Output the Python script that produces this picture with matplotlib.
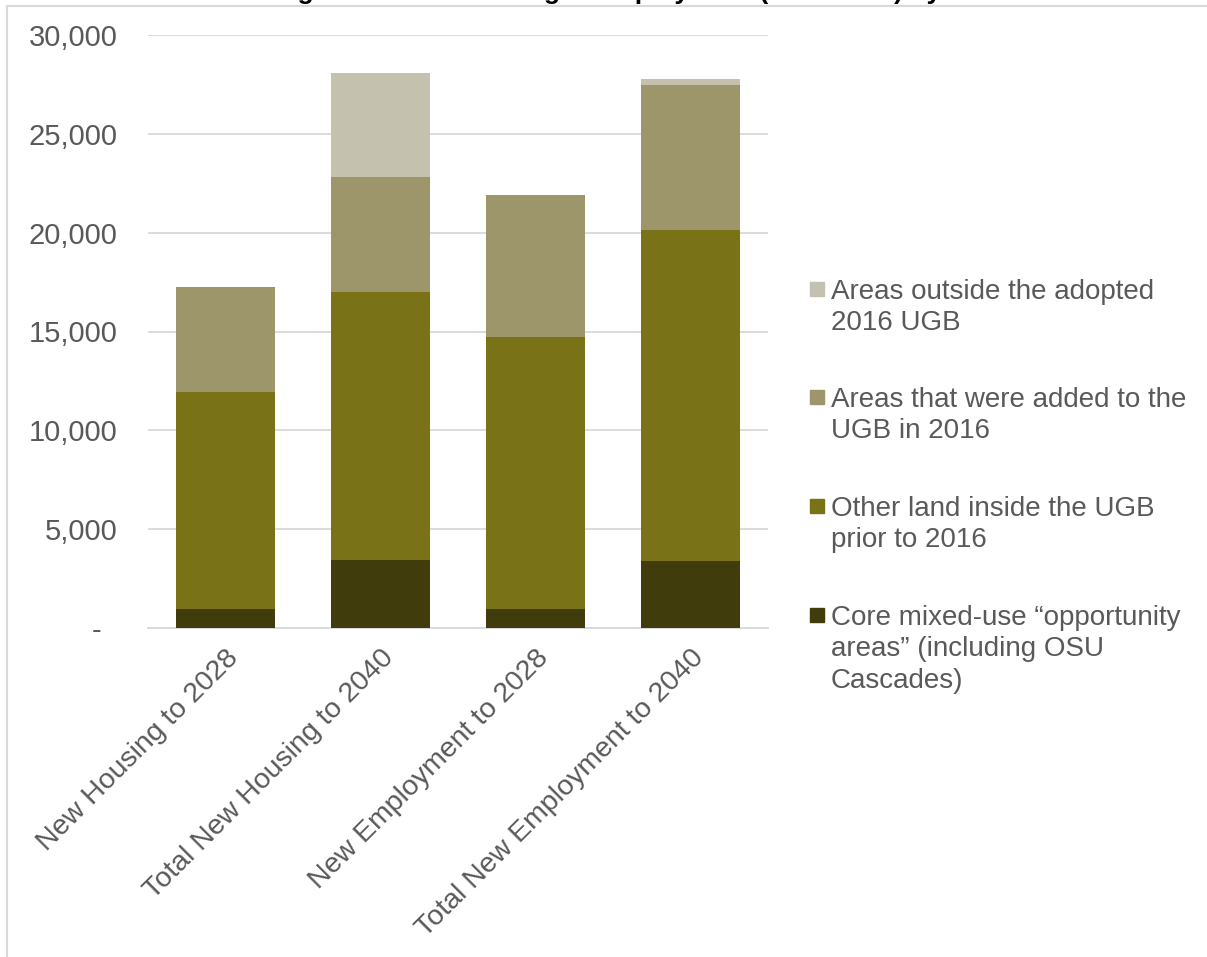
import numpy as np
import matplotlib
matplotlib.use("Agg")
import matplotlib.pyplot as plt
import matplotlib.transforms as mtransforms
from matplotlib.patches import Rectangle

plt.rcParams['font.family'] = ['Liberation Sans', 'DejaVu Sans']

# Data (stacked segments, bottom to top)
categories = ['New Housing to 2028', 'Total New Housing to 2040',
              'New Employment to 2028', 'Total New Employment to 2040']
core_opportunity = [950, 3450, 950, 3400]
other_inside = [11000, 13550, 13770, 16730]
added_2016 = [5300, 5820, 7180, 7330]
outside_ugb = [0, 5250, 0, 300]

series_labels = ['Core mixed-use \u201copportunity\nareas\u201d (including OSU\nCascades)',
                 'Other land inside the UGB\nprior to 2016',
                 'Areas that were added to the\nUGB in 2016',
                 'Areas outside the adopted\n2016 UGB']
colors = ['#413C0B', '#7A7217', '#9E966B', '#C4C1AE']
title = 'Figure 3: New Housing & Employment (2016-2040) by Area'

text_color = '#595959'
grid_color = '#D9D9D9'

fig = plt.figure(figsize=(12.07, 9.57), dpi=100)
ax = fig.add_axes([148 / 1207, 1 - 628 / 957, 620 / 1207, 593 / 957])

x = np.arange(len(categories))
bottom = np.zeros(len(categories))
for vals, c in zip([core_opportunity, other_inside, added_2016, outside_ugb], colors):
    ax.bar(x, vals, width=0.645, bottom=bottom, color=c, zorder=3)
    bottom += np.array(vals)

ax.set_xlim(-0.5, len(categories) - 0.5)
ax.set_ylim(0, 30000)
yt = np.arange(0, 30001, 5000)
ax.set_yticks(yt)
ax.set_yticklabels(['-  ' if v == 0 else f'{v:,}' for v in yt],
                   fontsize=21, color=text_color)
ax.set_xticks(x)
ax.set_xticklabels(categories, fontsize=20.5, color=text_color,
                   rotation=45, ha='right', rotation_mode='anchor')
shift = mtransforms.ScaledTranslation(-6 / 100, 0, fig.dpi_scale_trans)
for lbl in ax.get_xticklabels():
    lbl.set_transform(lbl.get_transform() + shift)
ax.tick_params(axis='both', length=0)
ax.tick_params(axis='y', pad=22)
ax.tick_params(axis='x', pad=12)
ax.grid(axis='y', color=grid_color, linewidth=1.3, zorder=0)
for s in ['top', 'right', 'left']:
    ax.spines[s].set_visible(False)
ax.spines['bottom'].set_color(grid_color)
ax.spines['bottom'].set_linewidth(1.3)

# manual legend, top entry first
legend_y = [289, 397, 506, 615]
for lab, c, yp in zip(series_labels[::-1], colors[::-1], legend_y):
    fig.add_artist(Rectangle((810 / 1207, 1 - (yp + 7) / 957), 14 / 1207, 14 / 957,
                             transform=fig.transFigure, color=c))
    fig.text(831 / 1207, 1 - (yp - 10) / 957, lab, fontsize=20, color=text_color,
             va='top', ha='left', linespacing=1.27)

# outer frame (cropped chart border)
fig.add_artist(Rectangle((7 / 1207, -0.5), 2.0, 1.5 - 5.5 / 957, fill=False,
                         edgecolor=grid_color, linewidth=1.5,
                         transform=fig.transFigure))

# title, mostly cut off at the top
fig.text(640 / 1207, 1 + 1.5 / 957, title, fontsize=19, fontweight='bold',
         color='black', ha='center', va='baseline')

fig.savefig('out.png', dpi=100)
